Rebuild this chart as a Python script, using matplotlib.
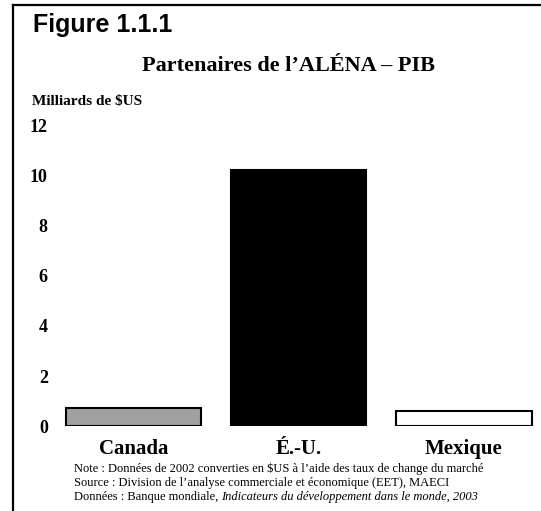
import matplotlib
matplotlib.use("Agg")
import matplotlib.pyplot as plt
from matplotlib.lines import Line2D

countries = ["Canada", "É.-U.", "Mexique"]
gdp = [0.72, 10.2, 0.6]          # milliers de milliards $US
yticks = [0, 2, 4, 6, 8, 10, 12]
colors = ["#a0a0a0", "#000000", "#ffffff"]
notes = [
    ("Note : Données de 2002 converties en $US à l\u2019aide des taux de change du marché", None),
    ("Source : Division de l\u2019analyse commerciale et économique (EET), MAECI", None),
    ("Données : Banque mondiale, ", "Indicateurs du développement dans le monde, 2003"),
]

SERIF = "Liberation Serif"
SANS = "Liberation Sans"

fig = plt.figure(figsize=(5.41, 5.11), dpi=100)
ax = fig.add_axes([0.109, 0.166, 0.886, 0.589])

x = range(len(countries))
ax.bar(x, gdp, width=0.82, color=colors, edgecolor="black", linewidth=1.5)
ax.set_xlim(-0.45, 2.45)
ax.set_ylim(0, 12)
ax.set_yticks(yticks)
ax.set_yticklabels([str(v) for v in yticks], fontfamily=SERIF, fontweight="bold", fontsize=13)
ax.set_xticks(list(x))
ax.set_xticklabels(countries, fontfamily=SERIF, fontweight="bold", fontsize=15)
ax.tick_params(axis="y", length=0, pad=8)
ax.tick_params(axis="x", length=0, pad=9)
for s in ax.spines.values():
    s.set_visible(False)

# frame lines
fig.add_artist(Line2D([13/541, 1], [1 - 5/511, 1 - 5/511], color="black", lw=1.6,
                      transform=fig.transFigure))
fig.add_artist(Line2D([13/541, 13/541], [0, 1 - 5/511], color="black", lw=1.6,
                      transform=fig.transFigure))

fig.text(33/541, 1 - 32/511, "Figure 1.1.1", fontfamily=SANS, fontweight="bold",
         fontsize=18, va="baseline", ha="left")
fig.text(289/541, 1 - 66/511, "Partenaires de l\u2019ALÉNA \u2013 PIB", fontfamily=SERIF,
         fontweight="bold", fontsize=16, ha="center", va="center")
fig.text(32/541, 1 - 101/511, "Milliards de $US", fontfamily=SERIF, fontweight="bold",
         fontsize=11, ha="left", va="center")

ys = [469, 483, 497]
for (txt, ital), yy in zip(notes, ys):
    t = fig.text(74/541, 1 - yy/511, txt, fontfamily=SERIF, fontsize=9, ha="left", va="center")
    if ital:
        fig.canvas.draw()
        bb = t.get_window_extent()
        fig.text(bb.x1 / fig.bbox.width, 1 - yy/511, ital, fontfamily=SERIF, fontsize=9,
                 style="italic", ha="left", va="center")

fig.savefig("out.png", dpi=100)
